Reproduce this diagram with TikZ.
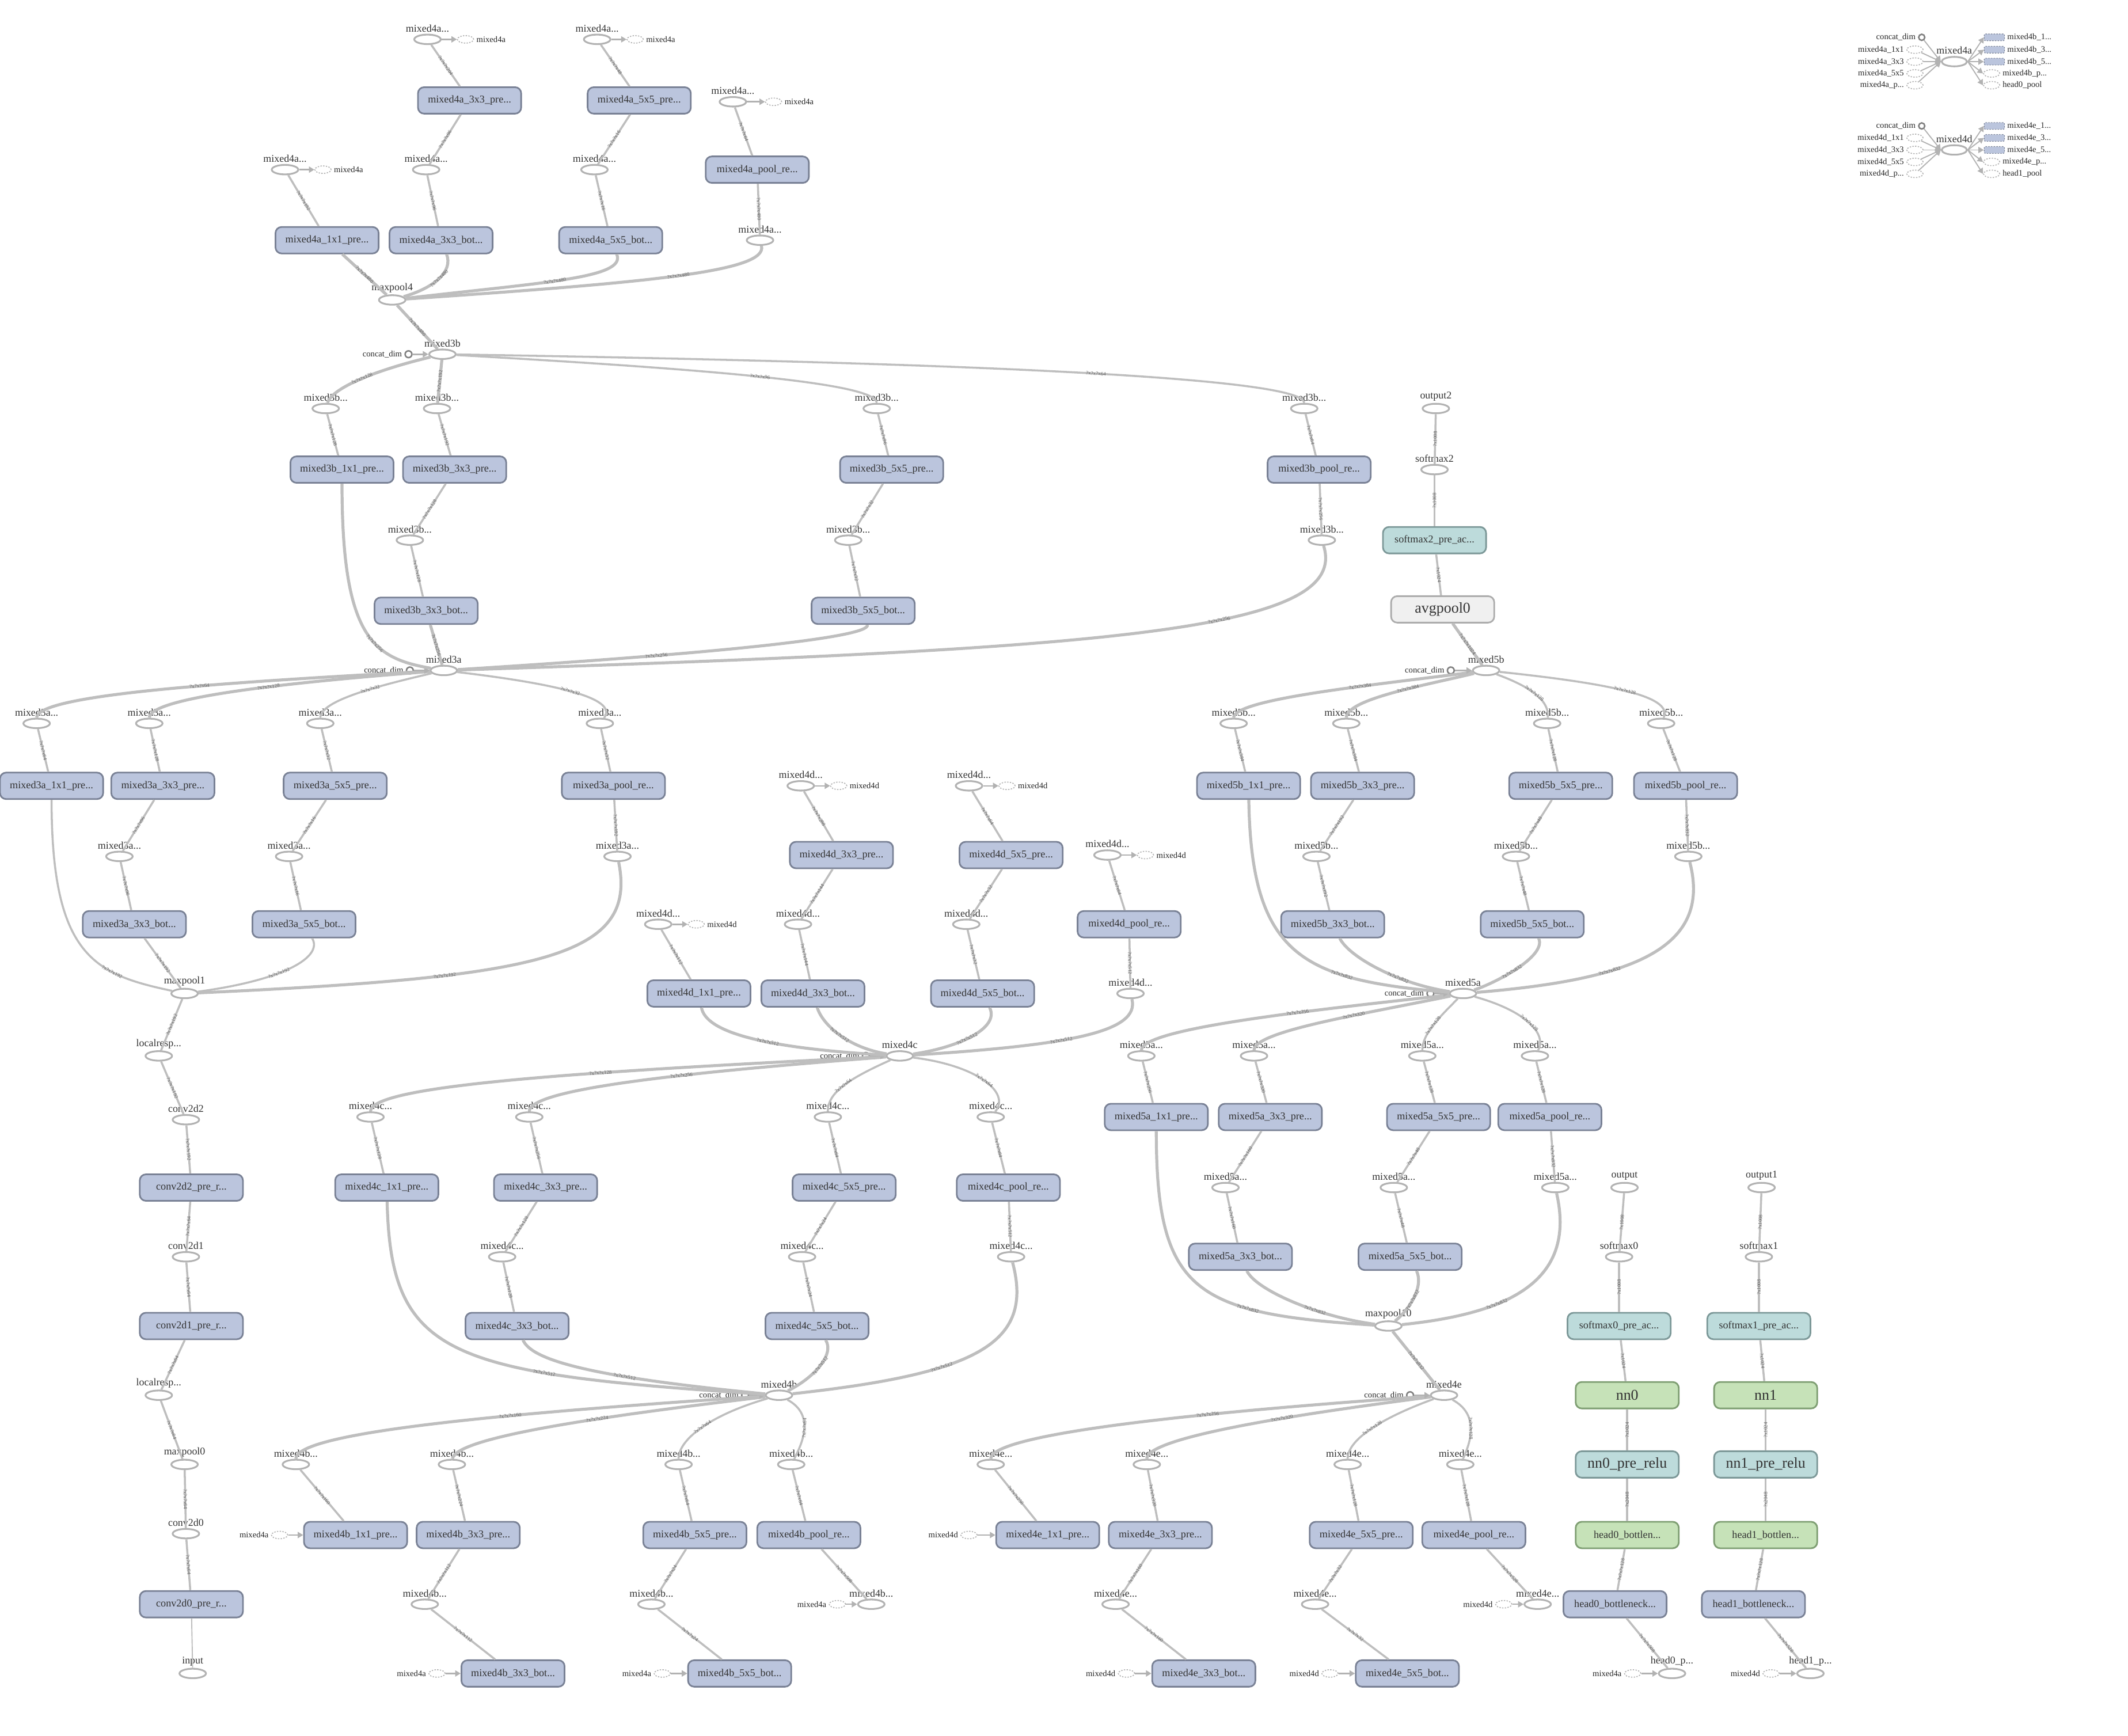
\documentclass[tikz,border=0pt]{standalone}
\usepackage{fontspec}
\setmainfont{Liberation Serif}
\usepackage{xcolor}
\usepackage{tikz}
\usetikzlibrary{arrows.meta,shapes.geometric}

\definecolor{opline}{RGB}{178,178,178}
\definecolor{connc}{RGB}{190,190,190}
\definecolor{blkfill}{RGB}{187,197,221}
\definecolor{blkline}{RGB}{121,129,149}
\definecolor{actfill}{RGB}{189,219,219}
\definecolor{actline}{RGB}{124,152,152}
\definecolor{nnfill}{RGB}{198,226,184}
\definecolor{nnline}{RGB}{126,158,114}
\definecolor{avgfill}{RGB}{240,240,240}
\definecolor{avgline}{RGB}{172,172,172}
\definecolor{txtc}{RGB}{51,51,51}
\definecolor{elabc}{RGB}{95,95,95}
\definecolor{cdline}{RGB}{128,128,128}

\newcommand{\tsz}[1]{?x?x?x#1}

\begin{document}
\begin{tikzpicture}[x=1pt, y=-1pt,
    label distance=0.6pt,
    op/.style={ellipse, draw=opline, line width=1.3pt, fill=white,
      minimum width=19.5pt, minimum height=7pt, inner sep=0pt},
    lab/.style={font=\fontsize{7.6}{8}\selectfont, text=txtc, inner sep=0.5pt},
    rlab/.style={font=\fontsize{6.2}{7}\selectfont, text=black!85, inner sep=1pt},
    blk/.style={rectangle, rounded corners=4.5pt, draw=blkline, fill=blkfill,
      line width=1.2pt, minimum width=76pt, minimum height=19.5pt, inner sep=1pt,
      font=\fontsize{7.7}{8}\selectfont, text=txtc},
    actbox/.style={blk, draw=actline, fill=actfill},
    nnbox/.style={blk, draw=nnline, fill=nnfill},
    avgbox/.style={blk, draw=avgline, fill=avgfill},
    big/.style={font=\fontsize{11}{12}\selectfont},
    ref/.style={ellipse, draw=opline, dash pattern=on 1pt off 1pt, line width=0.7pt,
      minimum width=12pt, minimum height=5.5pt, inner sep=0pt},
    refbox/.style={rectangle, rounded corners=1pt, draw=blkline, fill=blkfill,
      dash pattern=on 1pt off 1pt, line width=0.5pt, minimum width=15pt,
      minimum height=5pt, inner sep=0pt},
    cdim/.style={circle, draw=cdline, line width=1.1pt, minimum size=5pt, inner sep=0pt},
    conn/.style={draw=connc, line width=1.5pt},
    wide/.style={line width=2.2pt},
    refarrow/.style={draw=opline, line width=1.1pt, -{Triangle[length=4pt,width=4.5pt]}},
    elab/.style={font=\fontsize{3.8}{4}\selectfont, text=elabc, sloped, inner sep=0.3pt}]

  \useasboundingbox (0,0) rectangle (1568,1279);

  % ---- stem
  \node[op, label={[lab]above:input}] (input) at (142,1233) {};
  \node[blk] (c0pre) at (141,1182) {conv2d0\_pre\_r...};
  \node[op, label={[lab]above:conv2d0}] (c0) at (137,1130) {};
  \node[op, label={[lab]above:maxpool0}] (mp0) at (136,1079) {};
  \node[op, label={[lab]above:localresp...}] (lrn0) at (117,1028) {};
  \node[blk] (c1pre) at (141,977) {conv2d1\_pre\_r...};
  \node[op, label={[lab]above:conv2d1}] (c1) at (137,926) {};
  \node[blk] (c2pre) at (141,875) {conv2d2\_pre\_r...};
  \node[op, label={[lab]above:conv2d2}] (c2) at (137,825) {};
  \node[op, label={[lab]above:localresp...}] (lrn1) at (117,778) {};
  \node[op, label={[lab]above:maxpool1}] (mp1) at (136,732) {};

  \draw[conn, line width=0.8pt] (input) -- (c0pre);
  \draw[conn] (c0pre) -- node[elab]{\tsz{64}} (c0);
  \draw[conn] (c0) -- node[elab]{\tsz{64}} (mp0);
  \draw[conn] (mp0) -- node[elab]{\tsz{64}} (lrn0);
  \draw[conn] (lrn0) -- node[elab]{\tsz{64}} (c1pre);
  \draw[conn] (c1pre) -- node[elab]{\tsz{64}} (c1);
  \draw[conn] (c1) -- node[elab]{\tsz{64}} (c2pre);
  \draw[conn] (c2pre) -- node[elab]{\tsz{192}} (c2);
  \draw[conn] (c2) -- node[elab]{\tsz{192}} (lrn1);
  \draw[conn] (lrn1) -- node[elab]{\tsz{192}} (mp1);

  % ---- mixed3a
  \node[op, label={[lab]above:mixed3a}] (m3a) at (327,494) {};
  \node[cdim, label={[rlab]left:concat\_dim}] (m3acd) at (302,494) {};
  \node[op, label={[lab]above:mixed3a...}] (m3a1x1r) at (27,533) {};
  \node[op, label={[lab]above:mixed3a...}] (m3a3x3r) at (110,533) {};
  \node[op, label={[lab]above:mixed3a...}] (m3a5x5r) at (236,533) {};
  \node[op, label={[lab]above:mixed3a...}] (m3apoolr) at (442,533) {};
  \node[blk] (m3a1x1) at (38,579) {mixed3a\_1x1\_pre...};
  \node[blk] (m3a3x3) at (120,579) {mixed3a\_3x3\_pre...};
  \node[blk] (m3a5x5) at (247,579) {mixed3a\_5x5\_pre...};
  \node[blk] (m3apoolre) at (452,579) {mixed3a\_pool\_re...};
  \node[op, label={[lab]above:mixed3a...}] (m3a3x3br) at (88,631) {};
  \node[op, label={[lab]above:mixed3a...}] (m3a5x5br) at (213,631) {};
  \node[op, label={[lab]above:mixed3a...}] (m3apool) at (455,631) {};
  \node[blk] (m3a3x3b) at (99,681) {mixed3a\_3x3\_bot...};
  \node[blk] (m3a5x5b) at (224,681) {mixed3a\_5x5\_bot...};

  \draw[conn] (mp1) .. controls (70,718) and (38,705) .. (m3a1x1) node[elab,pos=0.3]{\tsz{192}};
  \draw[conn] (mp1) -- node[elab]{\tsz{192}} (m3a3x3b);
  \draw[conn] (mp1) .. controls (210,722) and (238,705) .. (m3a5x5b) node[elab,pos=0.4]{\tsz{192}};
  \draw[conn, wide] (mp1) .. controls (400,720) and (470,705) .. (m3apool) node[elab,pos=0.3]{\tsz{192}};
  \draw[conn] (m3a1x1) -- node[elab]{\tsz{64}} (m3a1x1r);
  \draw[conn] (m3a3x3b) -- node[elab]{\tsz{96}} (m3a3x3br);
  \draw[conn] (m3a3x3br) -- node[elab]{\tsz{96}} (m3a3x3);
  \draw[conn] (m3a3x3) -- node[elab]{\tsz{128}} (m3a3x3r);
  \draw[conn] (m3a5x5b) -- node[elab]{\tsz{16}} (m3a5x5br);
  \draw[conn] (m3a5x5br) -- node[elab]{\tsz{16}} (m3a5x5);
  \draw[conn] (m3a5x5) -- node[elab]{\tsz{32}} (m3a5x5r);
  \draw[conn] (m3apool) -- node[elab]{\tsz{192}} (m3apoolre);
  \draw[conn] (m3apoolre) -- node[elab]{\tsz{32}} (m3apoolr);
  \draw[conn, wide] (m3a) .. controls (160,503) and (27,512) .. (m3a1x1r) node[elab,pos=0.4]{\tsz{64}};
  \draw[conn, wide] (m3a) .. controls (210,503) and (110,514) .. (m3a3x3r) node[elab,pos=0.4]{\tsz{128}};
  \draw[conn] (m3a) .. controls (280,505) and (236,516) .. (m3a5x5r) node[elab,pos=0.4]{\tsz{32}};
  \draw[conn] (m3a) .. controls (420,505) and (455,516) .. (m3apoolr) node[elab,pos=0.45]{\tsz{32}};
  \draw[refarrow] (m3acd) -- (m3a);

  % ---- mixed3b
  \node[op, label={[lab]above:mixed3b}] (m3b) at (326,261) {};
  \node[cdim, label={[rlab]left:concat\_dim}] (m3bcd) at (301,261) {};
  \node[op, label={[lab]above:mixed3b...}] (m3b1x1r) at (240,301) {};
  \node[op, label={[lab]above:mixed3b...}] (m3b3x3r) at (322,301) {};
  \node[op, label={[lab]above:mixed3b...}] (m3b5x5r) at (646,301) {};
  \node[op, label={[lab]above:mixed3b...}] (m3bpoolr) at (961,301) {};
  \node[blk] (m3b1x1) at (252,346) {mixed3b\_1x1\_pre...};
  \node[blk] (m3b3x3) at (335,346) {mixed3b\_3x3\_pre...};
  \node[blk] (m3b5x5) at (657,346) {mixed3b\_5x5\_pre...};
  \node[blk] (m3bpoolre) at (972,346) {mixed3b\_pool\_re...};
  \node[op, label={[lab]above:mixed3b...}] (m3b3x3br) at (302,398) {};
  \node[op, label={[lab]above:mixed3b...}] (m3b5x5br) at (625,398) {};
  \node[op, label={[lab]above:mixed3b...}] (m3bpool) at (974,398) {};
  \node[blk] (m3b3x3b) at (314,450) {mixed3b\_3x3\_bot...};
  \node[blk] (m3b5x5b) at (636,450) {mixed3b\_5x5\_bot...};

  \draw[conn, wide] (m3a) .. controls (275,485) and (252,470) .. (m3b1x1) node[elab,pos=0.4]{\tsz{256}};
  \draw[conn, wide] (m3a) -- node[elab]{\tsz{256}} (m3b3x3b);
  \draw[conn, wide] (m3a) .. controls (520,482) and (642,470) .. (m3b5x5b) node[elab,pos=0.3]{\tsz{256}};
  \draw[conn, wide] (m3a) .. controls (820,478) and (995,465) .. (m3bpool) node[elab,pos=0.6]{\tsz{256}};
  \draw[conn] (m3b1x1) -- node[elab]{\tsz{128}} (m3b1x1r);
  \draw[conn] (m3b3x3b) -- node[elab]{\tsz{128}} (m3b3x3br);
  \draw[conn] (m3b3x3br) -- node[elab]{\tsz{128}} (m3b3x3);
  \draw[conn] (m3b3x3) -- node[elab]{\tsz{192}} (m3b3x3r);
  \draw[conn] (m3b5x5b) -- node[elab]{\tsz{32}} (m3b5x5br);
  \draw[conn] (m3b5x5br) -- node[elab]{\tsz{32}} (m3b5x5);
  \draw[conn] (m3b5x5) -- node[elab]{\tsz{96}} (m3b5x5r);
  \draw[conn] (m3bpool) -- node[elab]{\tsz{256}} (m3bpoolre);
  \draw[conn] (m3bpoolre) -- node[elab]{\tsz{64}} (m3bpoolr);
  \draw[conn, wide] (m3b) .. controls (280,272) and (245,285) .. (m3b1x1r) node[elab,pos=0.5]{\tsz{128}};
  \draw[conn, wide] (m3b) -- node[elab]{\tsz{192}} (m3b3x3r);
  \draw[conn] (m3b) .. controls (520,272) and (646,282) .. (m3b5x5r) node[elab,pos=0.5]{\tsz{96}};
  \draw[conn] (m3b) .. controls (760,268) and (961,280) .. (m3bpoolr) node[elab,pos=0.5]{\tsz{64}};
  \draw[refarrow] (m3bcd) -- (m3b);

  % ---- maxpool4 and mixed4a
  \node[op, label={[lab]above:maxpool4}] (mp4) at (289,221) {};
  \draw[conn, wide] (m3b) -- node[elab]{\tsz{480}} (mp4);

  \node[blk] (m4a1x1) at (241,177) {mixed4a\_1x1\_pre...};
  \node[blk] (m4a3x3b) at (325,177) {mixed4a\_3x3\_bot...};
  \node[blk] (m4a5x5b) at (450,177) {mixed4a\_5x5\_bot...};
  \node[op, label={[lab]above:mixed4a...}] (m4apool) at (560,177) {};
  \node[op, label={[lab]above:mixed4a...}] (m4a1x1r) at (210,125) {};
  \node[op, label={[lab]above:mixed4a...}] (m4a3x3br) at (314,125) {};
  \node[op, label={[lab]above:mixed4a...}] (m4a5x5br) at (438,125) {};
  \node[blk] (m4apoolre) at (558,125) {mixed4a\_pool\_re...};
  \node[blk] (m4a3x3) at (346,74) {mixed4a\_3x3\_pre...};
  \node[blk] (m4a5x5) at (471,74) {mixed4a\_5x5\_pre...};
  \node[op, label={[lab]above:mixed4a...}] (m4apoolr) at (540,75) {};
  \node[op, label={[lab]above:mixed4a...}] (m4a3x3r) at (315,29) {};
  \node[op, label={[lab]above:mixed4a...}] (m4a5x5r) at (440,29) {};
  \node[ref, label={[rlab]right:mixed4a}] (m4a1x1o) at (238,125) {};
  \node[ref, label={[rlab]right:mixed4a}] (m4a3x3o) at (343,29) {};
  \node[ref, label={[rlab]right:mixed4a}] (m4a5x5o) at (468,29) {};
  \node[ref, label={[rlab]right:mixed4a}] (m4apoolo) at (570,75) {};

  \draw[conn, wide] (mp4) -- node[elab]{\tsz{480}} (m4a1x1);
  \draw[conn, wide] (mp4) .. controls (320,212) and (334,200) .. (m4a3x3b) node[elab,pos=0.5]{\tsz{480}};
  \draw[conn, wide] (mp4) .. controls (400,208) and (462,205) .. (m4a5x5b) node[elab,pos=0.45]{\tsz{480}};
  \draw[conn, wide] (mp4) .. controls (480,208) and (566,200) .. (m4apool) node[elab,pos=0.5]{\tsz{480}};
  \draw[conn] (m4a1x1) -- node[elab]{\tsz{192}} (m4a1x1r);
  \draw[conn] (m4a3x3b) -- node[elab]{\tsz{96}} (m4a3x3br);
  \draw[conn] (m4a3x3br) -- node[elab]{\tsz{96}} (m4a3x3);
  \draw[conn] (m4a3x3) -- node[elab]{\tsz{204}} (m4a3x3r);
  \draw[conn] (m4a5x5b) -- node[elab]{\tsz{16}} (m4a5x5br);
  \draw[conn] (m4a5x5br) -- node[elab]{\tsz{16}} (m4a5x5);
  \draw[conn] (m4a5x5) -- node[elab]{\tsz{48}} (m4a5x5r);
  \draw[conn] (m4apool) -- node[elab]{\tsz{480}} (m4apoolre);
  \draw[conn] (m4apoolre) -- node[elab]{\tsz{64}} (m4apoolr);
  \draw[refarrow] (m4a1x1r) -- (m4a1x1o);
  \draw[refarrow] (m4a3x3r) -- (m4a3x3o);
  \draw[refarrow] (m4a5x5r) -- (m4a5x5o);
  \draw[refarrow] (m4apoolr) -- (m4apoolo);

  % ---- mixed4b
  \node[op, label={[lab]above:mixed4b}] (m4b) at (574,1028) {};
  \node[cdim, label={[rlab]left:concat\_dim}] (m4bcd) at (549,1028) {};
  \node[op, label={[lab]above:mixed4b...}] (m4b1x1r) at (218,1079) {};
  \node[op, label={[lab]above:mixed4b...}] (m4b3x3r) at (333,1079) {};
  \node[op, label={[lab]above:mixed4b...}] (m4b5x5r) at (500,1079) {};
  \node[op, label={[lab]above:mixed4b...}] (m4bpoolr) at (583,1079) {};
  \node[blk] (m4b1x1) at (262,1131) {mixed4b\_1x1\_pre...};
  \node[blk] (m4b3x3) at (345,1131) {mixed4b\_3x3\_pre...};
  \node[blk] (m4b5x5) at (512,1131) {mixed4b\_5x5\_pre...};
  \node[blk] (m4bpoolre) at (596,1131) {mixed4b\_pool\_re...};
  \node[op, label={[lab]above:mixed4b...}] (m4b3x3br) at (313,1182) {};
  \node[op, label={[lab]above:mixed4b...}] (m4b5x5br) at (480,1182) {};
  \node[op, label={[lab]above:mixed4b...}] (m4bpool) at (642,1182) {};
  \node[blk] (m4b3x3b) at (378,1233) {mixed4b\_3x3\_bot...};
  \node[blk] (m4b5x5b) at (545,1233) {mixed4b\_5x5\_bot...};
  \node[ref, label={[rlab]left:mixed4a}] (m4b1x1i) at (206,1131) {};
  \node[ref, label={[rlab]left:mixed4a}] (m4b3x3i) at (322,1233) {};
  \node[ref, label={[rlab]left:mixed4a}] (m4b5x5i) at (488,1233) {};
  \node[ref, label={[rlab]left:mixed4a}] (m4bpooli) at (617,1182) {};

  \draw[refarrow] (m4b1x1i) -- (m4b1x1);
  \draw[refarrow] (m4b3x3i) -- (m4b3x3b);
  \draw[refarrow] (m4b5x5i) -- (m4b5x5b);
  \draw[refarrow] (m4bpooli) -- (m4bpool);
  \draw[conn] (m4b1x1) -- node[elab]{\tsz{160}} (m4b1x1r);
  \draw[conn] (m4b3x3b) -- node[elab]{\tsz{112}} (m4b3x3br);
  \draw[conn] (m4b3x3br) -- node[elab]{\tsz{112}} (m4b3x3);
  \draw[conn] (m4b3x3) -- node[elab]{\tsz{224}} (m4b3x3r);
  \draw[conn] (m4b5x5b) -- node[elab]{\tsz{24}} (m4b5x5br);
  \draw[conn] (m4b5x5br) -- node[elab]{\tsz{24}} (m4b5x5);
  \draw[conn] (m4b5x5) -- node[elab]{\tsz{64}} (m4b5x5r);
  \draw[conn] (m4bpool) -- node[elab]{\tsz{508}} (m4bpoolre);
  \draw[conn] (m4bpoolre) -- node[elab]{\tsz{64}} (m4bpoolr);
  \draw[conn, wide] (m4b) .. controls (360,1042) and (218,1056) .. (m4b1x1r) node[elab,pos=0.35]{\tsz{160}};
  \draw[conn, wide] (m4b) .. controls (430,1045) and (335,1060) .. (m4b3x3r) node[elab,pos=0.35]{\tsz{224}};
  \draw[conn] (m4b) .. controls (525,1042) and (500,1060) .. (m4b5x5r) node[elab,pos=0.5]{\tsz{64}};
  \draw[conn] (m4b) .. controls (600,1042) and (592,1062) .. (m4bpoolr) node[elab,pos=0.5]{\tsz{64}};
  \draw[refarrow] (m4bcd) -- (m4b);

  % ---- mixed4c
  \node[op, label={[lab]above:mixed4c}] (m4c) at (663,778) {};
  \node[cdim, label={[rlab]left:concat\_dim}] (m4ccd) at (638,778) {};
  \node[op, label={[lab]above:mixed4c...}] (m4c1x1r) at (273,823) {};
  \node[op, label={[lab]above:mixed4c...}] (m4c3x3r) at (390,823) {};
  \node[op, label={[lab]above:mixed4c...}] (m4c5x5r) at (610,823) {};
  \node[op, label={[lab]above:mixed4c...}] (m4cpoolr) at (730,823) {};
  \node[blk] (m4c1x1) at (285,875) {mixed4c\_1x1\_pre...};
  \node[blk] (m4c3x3) at (402,875) {mixed4c\_3x3\_pre...};
  \node[blk] (m4c5x5) at (622,875) {mixed4c\_5x5\_pre...};
  \node[blk] (m4cpoolre) at (743,875) {mixed4c\_pool\_re...};
  \node[op, label={[lab]above:mixed4c...}] (m4c3x3br) at (370,926) {};
  \node[op, label={[lab]above:mixed4c...}] (m4c5x5br) at (591,926) {};
  \node[op, label={[lab]above:mixed4c...}] (m4cpool) at (745,926) {};
  \node[blk] (m4c3x3b) at (381,977) {mixed4c\_3x3\_bot...};
  \node[blk] (m4c5x5b) at (602,977) {mixed4c\_5x5\_bot...};

  \draw[conn, wide] (m4b) .. controls (330,1012) and (288,1000) .. (m4c1x1) node[elab,pos=0.3]{\tsz{512}};
  \draw[conn, wide] (m4b) .. controls (440,1015) and (392,1003) .. (m4c3x3b) node[elab,pos=0.35]{\tsz{512}};
  \draw[conn, wide] (m4b) .. controls (600,1015) and (615,998) .. (m4c5x5b) node[elab,pos=0.5]{\tsz{512}};
  \draw[conn, wide] (m4b) .. controls (720,1012) and (762,990) .. (m4cpool) node[elab,pos=0.35]{\tsz{512}};
  \draw[conn] (m4c1x1) -- node[elab]{\tsz{128}} (m4c1x1r);
  \draw[conn] (m4c3x3b) -- node[elab]{\tsz{128}} (m4c3x3br);
  \draw[conn] (m4c3x3br) -- node[elab]{\tsz{128}} (m4c3x3);
  \draw[conn] (m4c3x3) -- node[elab]{\tsz{256}} (m4c3x3r);
  \draw[conn] (m4c5x5b) -- node[elab]{\tsz{24}} (m4c5x5br);
  \draw[conn] (m4c5x5br) -- node[elab]{\tsz{24}} (m4c5x5);
  \draw[conn] (m4c5x5) -- node[elab]{\tsz{64}} (m4c5x5r);
  \draw[conn] (m4cpool) -- node[elab]{\tsz{512}} (m4cpoolre);
  \draw[conn] (m4cpoolre) -- node[elab]{\tsz{64}} (m4cpoolr);
  \draw[conn, wide] (m4c) .. controls (420,790) and (273,800) .. (m4c1x1r) node[elab,pos=0.35]{\tsz{128}};
  \draw[conn, wide] (m4c) .. controls (480,792) and (390,804) .. (m4c3x3r) node[elab,pos=0.35]{\tsz{256}};
  \draw[conn] (m4c) .. controls (625,795) and (610,805) .. (m4c5x5r) node[elab,pos=0.5]{\tsz{64}};
  \draw[conn] (m4c) .. controls (720,785) and (745,805) .. (m4cpoolr) node[elab,pos=0.5]{\tsz{64}};
  \draw[refarrow] (m4ccd) -- (m4c);

  % ---- mixed4d
  \node[blk] (m4d1x1) at (515,732) {mixed4d\_1x1\_pre...};
  \node[blk] (m4d3x3b) at (599,732) {mixed4d\_3x3\_bot...};
  \node[blk] (m4d5x5b) at (724,732) {mixed4d\_5x5\_bot...};
  \node[op, label={[lab]above:mixed4d...}] (m4dpool) at (833,732) {};
  \node[op, label={[lab]above:mixed4d...}] (m4d1x1r) at (485,681) {};
  \node[op, label={[lab]above:mixed4d...}] (m4d3x3br) at (588,681) {};
  \node[op, label={[lab]above:mixed4d...}] (m4d5x5br) at (712,681) {};
  \node[blk] (m4dpoolre) at (832,681) {mixed4d\_pool\_re...};
  \node[blk] (m4d3x3) at (620,630) {mixed4d\_3x3\_pre...};
  \node[blk] (m4d5x5) at (745,630) {mixed4d\_5x5\_pre...};
  \node[op, label={[lab]above:mixed4d...}] (m4dpoolr) at (816,630) {};
  \node[op, label={[lab]above:mixed4d...}] (m4d3x3r) at (590,579) {};
  \node[op, label={[lab]above:mixed4d...}] (m4d5x5r) at (714,579) {};
  \node[ref, label={[rlab]right:mixed4d}] (m4d1x1o) at (513,681) {};
  \node[ref, label={[rlab]right:mixed4d}] (m4d3x3o) at (618,579) {};
  \node[ref, label={[rlab]right:mixed4d}] (m4d5x5o) at (742,579) {};
  \node[ref, label={[rlab]right:mixed4d}] (m4dpoolo) at (844,630) {};

  \draw[conn, wide] (m4c) .. controls (560,772) and (520,760) .. (m4d1x1) node[elab,pos=0.4]{\tsz{512}};
  \draw[conn, wide] (m4c) .. controls (625,772) and (606,755) .. (m4d3x3b) node[elab,pos=0.5]{\tsz{512}};
  \draw[conn, wide] (m4c) .. controls (705,772) and (737,758) .. (m4d5x5b) node[elab,pos=0.45]{\tsz{512}};
  \draw[conn, wide] (m4c) .. controls (790,770) and (840,760) .. (m4dpool) node[elab,pos=0.4]{\tsz{512}};
  \draw[conn] (m4d1x1) -- node[elab]{\tsz{112}} (m4d1x1r);
  \draw[conn] (m4d3x3b) -- node[elab]{\tsz{144}} (m4d3x3br);
  \draw[conn] (m4d3x3br) -- node[elab]{\tsz{144}} (m4d3x3);
  \draw[conn] (m4d3x3) -- node[elab]{\tsz{288}} (m4d3x3r);
  \draw[conn] (m4d5x5b) -- node[elab]{\tsz{32}} (m4d5x5br);
  \draw[conn] (m4d5x5br) -- node[elab]{\tsz{32}} (m4d5x5);
  \draw[conn] (m4d5x5) -- node[elab]{\tsz{64}} (m4d5x5r);
  \draw[conn] (m4dpool) -- node[elab]{\tsz{512}} (m4dpoolre);
  \draw[conn] (m4dpoolre) -- node[elab]{\tsz{64}} (m4dpoolr);
  \draw[refarrow] (m4d1x1r) -- (m4d1x1o);
  \draw[refarrow] (m4d3x3r) -- (m4d3x3o);
  \draw[refarrow] (m4d5x5r) -- (m4d5x5o);
  \draw[refarrow] (m4dpoolr) -- (m4dpoolo);

  % ---- mixed4e
  \node[op, label={[lab]above:mixed4e}] (m4e) at (1064,1028) {};
  \node[cdim, label={[rlab]left:concat\_dim}] (m4ecd) at (1039,1028) {};
  \node[op, label={[lab]above:mixed4e...}] (m4e1x1r) at (730,1079) {};
  \node[op, label={[lab]above:mixed4e...}] (m4e3x3r) at (845,1079) {};
  \node[op, label={[lab]above:mixed4e...}] (m4e5x5r) at (993,1079) {};
  \node[op, label={[lab]above:mixed4e...}] (m4epoolr) at (1076,1079) {};
  \node[blk] (m4e1x1) at (772,1131) {mixed4e\_1x1\_pre...};
  \node[blk] (m4e3x3) at (855,1131) {mixed4e\_3x3\_pre...};
  \node[blk] (m4e5x5) at (1003,1131) {mixed4e\_5x5\_pre...};
  \node[blk] (m4epoolre) at (1086,1131) {mixed4e\_pool\_re...};
  \node[op, label={[lab]above:mixed4e...}] (m4e3x3br) at (822,1182) {};
  \node[op, label={[lab]above:mixed4e...}] (m4e5x5br) at (969,1182) {};
  \node[op, label={[lab]above:mixed4e...}] (m4epool) at (1133,1182) {};
  \node[blk] (m4e3x3b) at (887,1233) {mixed4e\_3x3\_bot...};
  \node[blk] (m4e5x5b) at (1037,1233) {mixed4e\_5x5\_bot...};
  \node[ref, label={[rlab]left:mixed4d}] (m4e1x1i) at (714,1131) {};
  \node[ref, label={[rlab]left:mixed4d}] (m4e3x3i) at (830,1233) {};
  \node[ref, label={[rlab]left:mixed4d}] (m4e5x5i) at (980,1233) {};
  \node[ref, label={[rlab]left:mixed4d}] (m4epooli) at (1108,1182) {};

  \draw[refarrow] (m4e1x1i) -- (m4e1x1);
  \draw[refarrow] (m4e3x3i) -- (m4e3x3b);
  \draw[refarrow] (m4e5x5i) -- (m4e5x5b);
  \draw[refarrow] (m4epooli) -- (m4epool);
  \draw[conn] (m4e1x1) -- node[elab]{\tsz{256}} (m4e1x1r);
  \draw[conn] (m4e3x3b) -- node[elab]{\tsz{160}} (m4e3x3br);
  \draw[conn] (m4e3x3br) -- node[elab]{\tsz{160}} (m4e3x3);
  \draw[conn] (m4e3x3) -- node[elab]{\tsz{320}} (m4e3x3r);
  \draw[conn] (m4e5x5b) -- node[elab]{\tsz{32}} (m4e5x5br);
  \draw[conn] (m4e5x5br) -- node[elab]{\tsz{32}} (m4e5x5);
  \draw[conn] (m4e5x5) -- node[elab]{\tsz{128}} (m4e5x5r);
  \draw[conn] (m4epool) -- node[elab]{\tsz{528}} (m4epoolre);
  \draw[conn] (m4epoolre) -- node[elab]{\tsz{128}} (m4epoolr);
  \draw[conn, wide] (m4e) .. controls (890,1040) and (730,1056) .. (m4e1x1r) node[elab,pos=0.35]{\tsz{256}};
  \draw[conn, wide] (m4e) .. controls (940,1044) and (845,1060) .. (m4e3x3r) node[elab,pos=0.35]{\tsz{320}};
  \draw[conn] (m4e) .. controls (1020,1044) and (993,1060) .. (m4e5x5r) node[elab,pos=0.5]{\tsz{128}};
  \draw[conn] (m4e) .. controls (1090,1042) and (1084,1062) .. (m4epoolr) node[elab,pos=0.5]{\tsz{128}};
  \draw[refarrow] (m4ecd) -- (m4e);

  % ---- maxpool10 and mixed5a
  \node[op, label={[lab]above:maxpool10}] (mp10) at (1023,977) {};
  \draw[conn, wide] (m4e) -- node[elab]{\tsz{832}} (mp10);

  \node[op, label={[lab]above:mixed5a}] (m5a) at (1078,732) {};
  \node[cdim, label={[rlab]left:concat\_dim}] (m5acd) at (1054,732) {};
  \node[op, label={[lab]above:mixed5a...}] (m5a1x1r) at (841,778) {};
  \node[op, label={[lab]above:mixed5a...}] (m5a3x3r) at (924,778) {};
  \node[op, label={[lab]above:mixed5a...}] (m5a5x5r) at (1048,778) {};
  \node[op, label={[lab]above:mixed5a...}] (m5apoolr) at (1131,778) {};
  \node[blk] (m5a1x1) at (852,823) {mixed5a\_1x1\_pre...};
  \node[blk] (m5a3x3) at (936,823) {mixed5a\_3x3\_pre...};
  \node[blk] (m5a5x5) at (1060,823) {mixed5a\_5x5\_pre...};
  \node[blk] (m5apoolre) at (1142,823) {mixed5a\_pool\_re...};
  \node[op, label={[lab]above:mixed5a...}] (m5a3x3br) at (903,875) {};
  \node[op, label={[lab]above:mixed5a...}] (m5a5x5br) at (1027,875) {};
  \node[op, label={[lab]above:mixed5a...}] (m5apool) at (1146,875) {};
  \node[blk] (m5a3x3b) at (914,926) {mixed5a\_3x3\_bot...};
  \node[blk] (m5a5x5b) at (1039,926) {mixed5a\_5x5\_bot...};

  \draw[conn, wide] (mp10) .. controls (880,968) and (852,952) .. (m5a1x1) node[elab,pos=0.3]{\tsz{832}};
  \draw[conn, wide] (mp10) .. controls (970,970) and (925,950) .. (m5a3x3b) node[elab,pos=0.35]{\tsz{832}};
  \draw[conn, wide] (mp10) .. controls (1035,968) and (1050,950) .. (m5a5x5b) node[elab,pos=0.5]{\tsz{832}};
  \draw[conn, wide] (mp10) .. controls (1110,968) and (1162,945) .. (m5apool) node[elab,pos=0.35]{\tsz{832}};
  \draw[conn] (m5a1x1) -- node[elab]{\tsz{256}} (m5a1x1r);
  \draw[conn] (m5a3x3b) -- node[elab]{\tsz{160}} (m5a3x3br);
  \draw[conn] (m5a3x3br) -- node[elab]{\tsz{160}} (m5a3x3);
  \draw[conn] (m5a3x3) -- node[elab]{\tsz{320}} (m5a3x3r);
  \draw[conn] (m5a5x5b) -- node[elab]{\tsz{48}} (m5a5x5br);
  \draw[conn] (m5a5x5br) -- node[elab]{\tsz{48}} (m5a5x5);
  \draw[conn] (m5a5x5) -- node[elab]{\tsz{128}} (m5a5x5r);
  \draw[conn] (m5apool) -- node[elab]{\tsz{832}} (m5apoolre);
  \draw[conn] (m5apoolre) -- node[elab]{\tsz{128}} (m5apoolr);
  \draw[conn, wide] (m5a) .. controls (960,745) and (841,758) .. (m5a1x1r) node[elab,pos=0.35]{\tsz{256}};
  \draw[conn, wide] (m5a) .. controls (1000,748) and (924,760) .. (m5a3x3r) node[elab,pos=0.35]{\tsz{320}};
  \draw[conn] (m5a) .. controls (1060,750) and (1048,762) .. (m5a5x5r) node[elab,pos=0.5]{\tsz{128}};
  \draw[conn] (m5a) .. controls (1125,745) and (1140,762) .. (m5apoolr) node[elab,pos=0.5]{\tsz{128}};
  \draw[refarrow] (m5acd) -- (m5a);

  % ---- mixed5b and the top
  \node[op, label={[lab]above:mixed5b}] (m5b) at (1095,494) {};
  \node[cdim, label={[rlab]left:concat\_dim}] (m5bcd) at (1069,494) {};
  \node[op, label={[lab]above:mixed5b...}] (m5b1x1r) at (909,533) {};
  \node[op, label={[lab]above:mixed5b...}] (m5b3x3r) at (992,533) {};
  \node[op, label={[lab]above:mixed5b...}] (m5b5x5r) at (1140,533) {};
  \node[op, label={[lab]above:mixed5b...}] (m5bpoolr) at (1224,533) {};
  \node[blk] (m5b1x1) at (920,579) {mixed5b\_1x1\_pre...};
  \node[blk] (m5b3x3) at (1004,579) {mixed5b\_3x3\_pre...};
  \node[blk] (m5b5x5) at (1150,579) {mixed5b\_5x5\_pre...};
  \node[blk] (m5bpoolre) at (1242,579) {mixed5b\_pool\_re...};
  \node[op, label={[lab]above:mixed5b...}] (m5b3x3br) at (970,631) {};
  \node[op, label={[lab]above:mixed5b...}] (m5b5x5br) at (1117,631) {};
  \node[op, label={[lab]above:mixed5b...}] (m5bpool) at (1244,631) {};
  \node[blk] (m5b3x3b) at (982,681) {mixed5b\_3x3\_bot...};
  \node[blk] (m5b5x5b) at (1129,681) {mixed5b\_5x5\_bot...};

  \draw[conn, wide] (m5a) .. controls (960,722) and (922,705) .. (m5b1x1) node[elab,pos=0.3]{\tsz{832}};
  \draw[conn, wide] (m5a) .. controls (1030,725) and (994,705) .. (m5b3x3b) node[elab,pos=0.35]{\tsz{832}};
  \draw[conn, wide] (m5a) .. controls (1100,725) and (1140,705) .. (m5b5x5b) node[elab,pos=0.45]{\tsz{832}};
  \draw[conn, wide] (m5a) .. controls (1200,722) and (1262,700) .. (m5bpool) node[elab,pos=0.35]{\tsz{832}};
  \draw[conn] (m5b1x1) -- node[elab]{\tsz{384}} (m5b1x1r);
  \draw[conn] (m5b3x3b) -- node[elab]{\tsz{192}} (m5b3x3br);
  \draw[conn] (m5b3x3br) -- node[elab]{\tsz{192}} (m5b3x3);
  \draw[conn] (m5b3x3) -- node[elab]{\tsz{384}} (m5b3x3r);
  \draw[conn] (m5b5x5b) -- node[elab]{\tsz{48}} (m5b5x5br);
  \draw[conn] (m5b5x5br) -- node[elab]{\tsz{48}} (m5b5x5);
  \draw[conn] (m5b5x5) -- node[elab]{\tsz{128}} (m5b5x5r);
  \draw[conn] (m5bpool) -- node[elab]{\tsz{832}} (m5bpoolre);
  \draw[conn] (m5bpoolre) -- node[elab]{\tsz{128}} (m5bpoolr);
  \draw[conn, wide] (m5b) .. controls (1010,505) and (909,515) .. (m5b1x1r) node[elab,pos=0.35]{\tsz{384}};
  \draw[conn, wide] (m5b) .. controls (1050,505) and (992,515) .. (m5b3x3r) node[elab,pos=0.4]{\tsz{384}};
  \draw[conn] (m5b) .. controls (1125,505) and (1142,515) .. (m5b5x5r) node[elab,pos=0.5]{\tsz{128}};
  \draw[conn] (m5b) .. controls (1200,505) and (1232,515) .. (m5bpoolr) node[elab,pos=0.45]{\tsz{128}};
  \draw[refarrow] (m5bcd) -- (m5b);

  \node[avgbox, big] (avg) at (1063,449) {avgpool0};
  \node[actbox] (sm2pre) at (1057,398) {softmax2\_pre\_ac...};
  \node[op, label={[lab]above:softmax2}] (sm2) at (1057,346) {};
  \node[op, label={[lab]above:output2}] (out2) at (1058,301) {};
  \draw[conn, wide] (m5b) -- node[elab]{\tsz{1024}} (avg);
  \draw[conn] (avg) -- node[elab]{?x1024} (sm2pre);
  \draw[conn] (sm2pre) -- node[elab]{?x1008} (sm2);
  \draw[conn] (sm2) -- node[elab]{?x1008} (out2);

  % ---- auxiliary heads
  \node[op, label={[lab]above:output}] (out0) at (1197,875) {};
  \node[op, label={[lab]above:softmax0}] (sm0) at (1193,926) {};
  \node[actbox] (sm0pre) at (1193,977) {softmax0\_pre\_ac...};
  \node[nnbox, big] (nn0) at (1199,1028) {nn0};
  \node[actbox, big] (nn0pre) at (1199,1079) {nn0\_pre\_relu};
  \node[nnbox] (h0bl) at (1199,1131) {head0\_bottlen...};
  \node[blk] (h0bn) at (1190,1182) {head0\_bottleneck...};
  \node[op, label={[lab]above:head0\_p...}] (h0p) at (1232,1233) {};
  \node[ref, label={[rlab]left:mixed4a}] (h0pi) at (1203,1233) {};
  \draw[refarrow] (h0pi) -- (h0p);
  \draw[conn] (h0p) -- node[elab]{\tsz{508}} (h0bn);
  \draw[conn] (h0bn) -- node[elab]{\tsz{128}} (h0bl);
  \draw[conn] (h0bl) -- node[elab]{?x2048} (nn0pre);
  \draw[conn] (nn0pre) -- node[elab]{?x1024} (nn0);
  \draw[conn] (nn0) -- node[elab]{?x1024} (sm0pre);
  \draw[conn] (sm0pre) -- node[elab]{?x1008} (sm0);
  \draw[conn] (sm0) -- node[elab]{?x1008} (out0);

  \node[op, label={[lab]above:output1}] (out1) at (1298,875) {};
  \node[op, label={[lab]above:softmax1}] (sm1) at (1296,926) {};
  \node[actbox] (sm1pre) at (1296,977) {softmax1\_pre\_ac...};
  \node[nnbox, big] (nn1) at (1301,1028) {nn1};
  \node[actbox, big] (nn1pre) at (1301,1079) {nn1\_pre\_relu};
  \node[nnbox] (h1bl) at (1301,1131) {head1\_bottlen...};
  \node[blk] (h1bn) at (1292,1182) {head1\_bottleneck...};
  \node[op, label={[lab]above:head1\_p...}] (h1p) at (1334,1233) {};
  \node[ref, label={[rlab]left:mixed4d}] (h1pi) at (1305,1233) {};
  \draw[refarrow] (h1pi) -- (h1p);
  \draw[conn] (h1p) -- node[elab]{\tsz{528}} (h1bn);
  \draw[conn] (h1bn) -- node[elab]{\tsz{128}} (h1bl);
  \draw[conn] (h1bl) -- node[elab]{?x2048} (nn1pre);
  \draw[conn] (nn1pre) -- node[elab]{?x1024} (nn1);
  \draw[conn] (nn1) -- node[elab]{?x1024} (sm1pre);
  \draw[conn] (sm1pre) -- node[elab]{?x1008} (sm1);
  \draw[conn] (sm1) -- node[elab]{?x1008} (out1);

  % ---- extracted concat nodes (top right)
  \node[op, minimum width=18.6pt, label={[lab]above:mixed4a}] (xa) at (1440,45.4) {};
  \node[cdim, minimum size=4.5pt, label={[rlab]left:concat\_dim}] (xacd) at (1416,27.5) {};
  \node[ref, label={[rlab]left:mixed4a\_1x1}] (xai1) at (1411,36.6) {};
  \node[ref, label={[rlab]left:mixed4a\_3x3}] (xai2) at (1411,45.4) {};
  \node[ref, label={[rlab]left:mixed4a\_5x5}] (xai3) at (1411,54.1) {};
  \node[ref, label={[rlab]left:mixed4a\_p...}] (xai4) at (1411,62.8) {};
  \node[refbox, label={[rlab]right:mixed4b\_1...}] (xao1) at (1469.5,27.5) {};
  \node[refbox, label={[rlab]right:mixed4b\_3...}] (xao2) at (1469.5,36.6) {};
  \node[refbox, label={[rlab]right:mixed4b\_5...}] (xao3) at (1469.5,45.4) {};
  \node[ref, label={[rlab]right:mixed4b\_p...}] (xao4) at (1467.5,54.1) {};
  \node[ref, label={[rlab]right:head0\_pool}] (xao5) at (1467.5,62.8) {};
  \foreach \i in {xacd,xai1,xai2,xai3,xai4}
    \draw[refarrow, line width=0.8pt] (\i) -- (xa.west);
  \foreach \o in {xao1,xao2,xao3,xao4,xao5}
    \draw[refarrow, line width=0.8pt] (xa.east) -- (\o.west);

  \node[op, minimum width=18.6pt, label={[lab]above:mixed4d}] (xd) at (1440,110.5) {};
  \node[cdim, minimum size=4.5pt, label={[rlab]left:concat\_dim}] (xdcd) at (1416,92.8) {};
  \node[ref, label={[rlab]left:mixed4d\_1x1}] (xdi1) at (1411,101.6) {};
  \node[ref, label={[rlab]left:mixed4d\_3x3}] (xdi2) at (1411,110.5) {};
  \node[ref, label={[rlab]left:mixed4d\_5x5}] (xdi3) at (1411,119.3) {};
  \node[ref, label={[rlab]left:mixed4d\_p...}] (xdi4) at (1411,128.1) {};
  \node[refbox, label={[rlab]right:mixed4e\_1...}] (xdo1) at (1469.5,92.8) {};
  \node[refbox, label={[rlab]right:mixed4e\_3...}] (xdo2) at (1469.5,101.6) {};
  \node[refbox, label={[rlab]right:mixed4e\_5...}] (xdo3) at (1469.5,110.5) {};
  \node[ref, label={[rlab]right:mixed4e\_p...}] (xdo4) at (1467.5,119.3) {};
  \node[ref, label={[rlab]right:head1\_pool}] (xdo5) at (1467.5,128.1) {};
  \foreach \i in {xdcd,xdi1,xdi2,xdi3,xdi4}
    \draw[refarrow, line width=0.8pt] (\i) -- (xd.west);
  \foreach \o in {xdo1,xdo2,xdo3,xdo4,xdo5}
    \draw[refarrow, line width=0.8pt] (xd.east) -- (\o.west);
\end{tikzpicture}
\end{document}
